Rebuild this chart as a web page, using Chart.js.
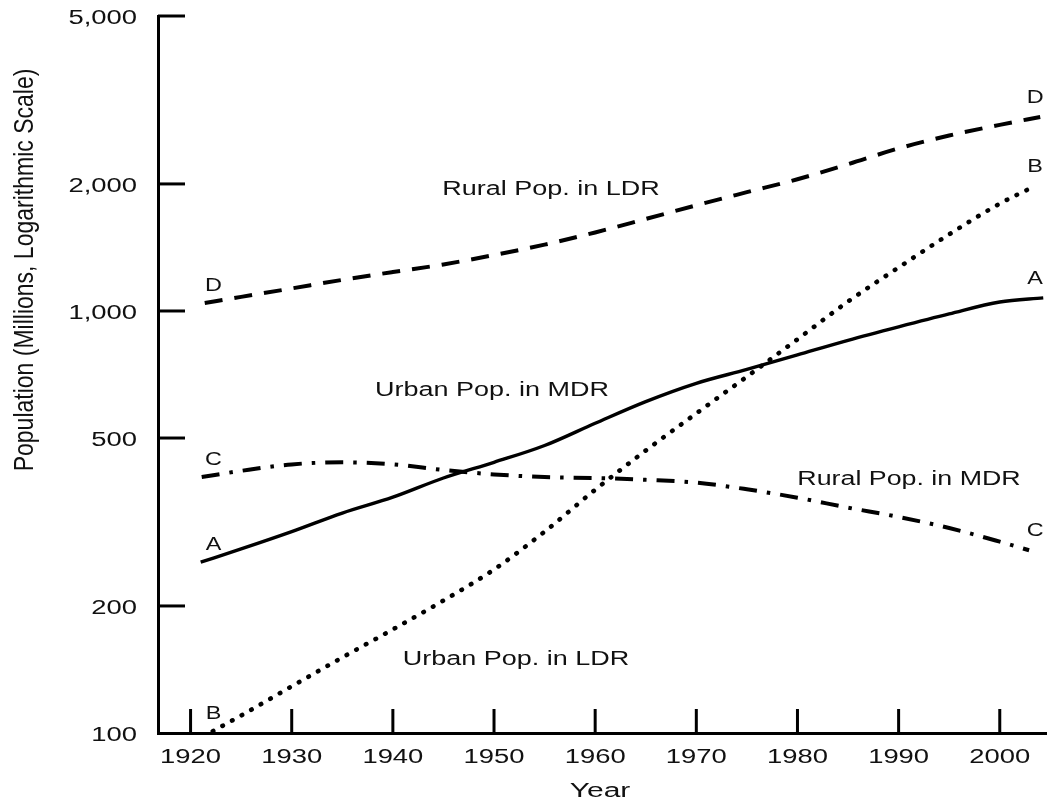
<!DOCTYPE html>
<html>
<head>
<meta charset="utf-8">
<script src="https://cdn.jsdelivr.net/npm/chart.js@4.4.1/dist/chart.umd.min.js"></script>
<style>
  html, body { margin: 0; padding: 0; background: #fff; }
  #wrap { width: 1047px; height: 802px; position: relative; }
  canvas { display: block; }
</style>
</head>
<body>
<div id="wrap"><canvas id="chart" width="1047" height="802"></canvas></div>
<script>
// Population in millions, shared interior years
const innerYears = [1925, 1930, 1935, 1940, 1945, 1950, 1955, 1960, 1965, 1970, 1975, 1980, 1985, 1990, 1995, 2000];

// First and last year of each curve (order: A, B, C, D)
const startYears = [1921.0, 1922.2, 1921.1, 1921.4];
const endYears   = [2004.3, 2003.5, 2002.9, 2004.0];

// A: urban population, more developed regions
const urbanMdr = [254, 273, 300, 332, 362, 402, 438, 480, 542, 610, 674, 727, 787, 852, 917, 984, 1050, 1074];
// B: urban population, less developed regions
const urbanLdr = [101, 110, 129, 151, 176, 206, 244, 300, 377, 467, 572, 699, 857, 1053, 1268, 1519, 1796, 1978];
// C: rural population, more developed regions
const ruralMdr = [404, 418, 433, 438, 433, 420, 410, 404, 402, 398, 392, 378, 361, 342, 325, 306, 284, 271];
// D: rural population, less developed regions
const ruralLdr = [1045, 1080, 1131, 1185, 1237, 1289, 1357, 1436, 1535, 1652, 1780, 1912, 2052, 2227, 2428, 2604, 2761, 2883];

const seriesLetters = ['A', 'B', 'C', 'D'];
const seriesNames = ['Urban Pop. in MDR', 'Urban Pop. in LDR', 'Rural Pop. in MDR', 'Rural Pop. in LDR'];

// Axis ticks
const yearTicks = [1920, 1930, 1940, 1950, 1960, 1970, 1980, 1990, 2000];
const popTicks = [100, 200, 500, 1000, 2000, 5000];
const popTickLabels = ['100', '200', '500', '1,000', '2,000', '5,000'];

const seriesValues = [urbanMdr, urbanLdr, ruralMdr, ruralLdr];

// Line styles: solid, dotted, dash-dot, dashed
const lineStyles = [
  { borderWidth: 3.4, borderDash: [], borderCapStyle: 'butt' },
  { borderWidth: 4.6, borderDash: [0.5, 10.5], borderCapStyle: 'round' },
  { borderWidth: 4, borderDash: [18, 10, 3.5, 10], borderCapStyle: 'butt' },
  { borderWidth: 4, borderDash: [18, 12], borderCapStyle: 'butt' }
];

function seriesPoints(i) {
  const xs = [startYears[i], ...innerYears, endYears[i]];
  return xs.map((x, k) => ({ x: x, y: seriesValues[i][k] }));
}

const datasets = seriesValues.map((vals, i) => Object.assign({
  label: seriesNames[i],
  data: seriesPoints(i),
  borderColor: '#000',
  backgroundColor: '#000',
  fill: false,
  pointRadius: 0,
  cubicInterpolationMode: 'monotone'
}, lineStyles[i]));

const FONT = '"Liberation Sans", Arial, Helvetica, sans-serif';
const INK = '#111';

function stretchedText(ctx, text, x, y, size, sx, align) {
  ctx.save();
  ctx.translate(x, y);
  ctx.scale(sx, 1);
  ctx.font = size + 'px ' + FONT;
  ctx.textAlign = align;
  ctx.textBaseline = 'alphabetic';
  ctx.fillStyle = INK;
  ctx.fillText(text, 0, 0);
  ctx.restore();
}

// Inward tick marks, tick labels, axis titles and curve annotations
const decorations = {
  id: 'decorations',
  afterDraw(chart) {
    const ctx = chart.ctx;
    const xs = chart.scales.x, ys = chart.scales.y;
    const area = chart.chartArea;

    ctx.save();
    ctx.strokeStyle = '#000';
    ctx.lineWidth = 3;
    ctx.lineCap = 'butt';
    // y ticks point right into the plot
    popTicks.forEach(v => {
      const py = ys.getPixelForValue(v);
      if (v === 100) return;
      ctx.beginPath();
      ctx.moveTo(area.left, py);
      ctx.lineTo(area.left + 27, py);
      ctx.stroke();
    });
    // x ticks point up into the plot
    yearTicks.forEach(v => {
      const px = xs.getPixelForValue(v);
      ctx.beginPath();
      ctx.moveTo(px, area.bottom);
      ctx.lineTo(px, area.bottom - 24);
      ctx.stroke();
    });
    ctx.restore();

    // tick labels
    popTicks.forEach((v, i) => {
      stretchedText(ctx, popTickLabels[i], area.left - 21, ys.getPixelForValue(v) + 8, 20, 1.37, 'right');
    });
    yearTicks.forEach(v => {
      stretchedText(ctx, String(v), xs.getPixelForValue(v), area.bottom + 30, 20, 1.37, 'center');
    });

    // axis titles
    stretchedText(ctx, 'Year', 600, 797, 20, 1.5, 'center');
    ctx.save();
    ctx.translate(33, 270);
    ctx.rotate(-Math.PI / 2);
    ctx.scale(1.15, 1.35);
    ctx.font = '20px ' + FONT;
    ctx.textAlign = 'center';
    ctx.textBaseline = 'alphabetic';
    ctx.fillStyle = INK;
    ctx.fillText('Population (Millions, Logarithmic Scale)', 0, 0);
    ctx.restore();

    // curve names
    stretchedText(ctx, seriesNames[3], 551, 195, 20, 1.35, 'center');
    stretchedText(ctx, seriesNames[0], 492, 396, 20, 1.35, 'center');
    stretchedText(ctx, seriesNames[2], 909, 485, 20, 1.34, 'center');
    stretchedText(ctx, seriesNames[1], 516, 665, 20, 1.35, 'center');

    // curve letters at both ends
    seriesLetters.forEach((L, i) => {
      const vals = seriesValues[i];
      const y0 = ys.getPixelForValue(vals[0]);
      const y1 = ys.getPixelForValue(vals[vals.length - 1]);
      stretchedText(ctx, L, xs.getPixelForValue(1922.26), y0 - 12, 18, 1.3, 'center');
      stretchedText(ctx, L, xs.getPixelForValue(2003.5), y1 - 14, 18, 1.3, 'center');
    });
  }
};

new Chart(document.getElementById('chart'), {
  type: 'line',
  data: { datasets: datasets },
  options: {
    responsive: false,
    animation: false,
    devicePixelRatio: 1,
    layout: { padding: { left: 158, top: 16, right: 0, bottom: 69 } },
    plugins: { legend: { display: false }, tooltip: { enabled: false } },
    scales: {
      x: {
        type: 'linear',
        min: 1916.78,
        max: 2004.67,
        afterBuildTicks: s => { s.ticks = yearTicks.map(v => ({ value: v })); },
        ticks: { display: false },
        grid: { display: false, drawTicks: false },
        border: { display: true, color: '#000', width: 3 }
      },
      y: {
        type: 'logarithmic',
        min: 100,
        max: 5000,
        afterBuildTicks: s => { s.ticks = popTicks.map(v => ({ value: v })); },
        ticks: { display: false },
        grid: { display: false, drawTicks: false },
        border: { display: true, color: '#000', width: 3 }
      }
    }
  },
  plugins: [decorations]
});
</script>
</body>
</html>
